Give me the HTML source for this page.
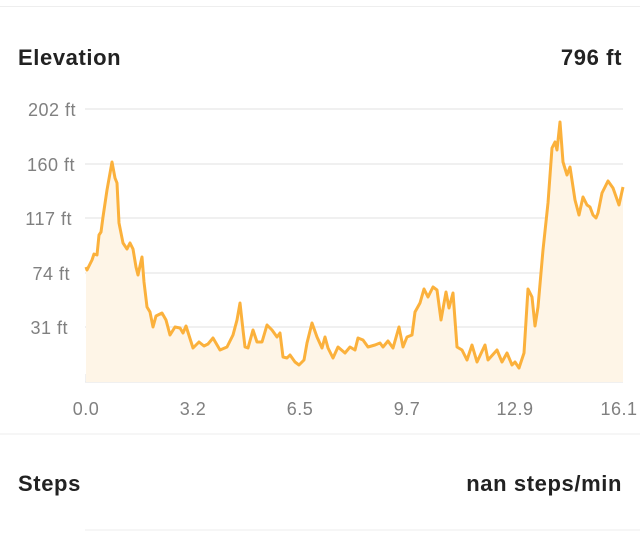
<!DOCTYPE html>
<html><head><style>
body{margin:0;width:640px;height:539px;background:#fff;font-family:"Liberation Sans",sans-serif;overflow:hidden;position:relative}
.t{position:absolute;font-size:22px;font-weight:bold;color:#222;letter-spacing:0.6px}
</style></head><body>
<div style="position:absolute;left:0;right:0;top:6px;border-top:1px solid #eee"></div>
<div class="t" style="left:18px;top:45px">Elevation</div>
<div class="t" style="right:18px;top:45px">796 ft</div>
<svg width="640" height="539" style="position:absolute;left:0;top:0">
<g stroke="#ebebeb" stroke-width="1.5">
<line x1="85" x2="623" y1="109" y2="109"/><line x1="85" x2="623" y1="164" y2="164"/><line x1="85" x2="623" y1="218" y2="218"/><line x1="85" x2="623" y1="273" y2="273"/><line x1="85" x2="623" y1="327" y2="327"/><line x1="85" x2="623" y1="382" y2="382"/>
<line x1="86" x2="86" y1="374" y2="382"/><line x1="193" x2="193" y1="374" y2="382"/><line x1="300" x2="300" y1="374" y2="382"/><line x1="407" x2="407" y1="374" y2="382"/><line x1="515" x2="515" y1="374" y2="382"/><line x1="622" x2="622" y1="374" y2="382"/>
</g>
<g font-size="18" fill="#808080" text-anchor="end" letter-spacing="0.5">
<text x="76" y="116">202 ft</text><text x="75" y="171">160 ft</text><text x="72" y="225">117 ft</text><text x="70" y="280">74 ft</text><text x="68" y="334">31 ft</text>
</g>
<g font-size="18" fill="#808080" text-anchor="middle" letter-spacing="0.5">
<text x="86" y="415">0.0</text><text x="193" y="415">3.2</text><text x="300" y="415">6.5</text><text x="407" y="415">9.7</text><text x="515" y="415">12.9</text><text x="619" y="415">16.1</text>
</g>
<polygon fill="#fef5e7" points="86,382 86,267 87,270 92,260 94,254 97,255 99,235 101,232 103,217 107,190 112,162 115,178 117,183 119,223 123,243 127,249 130,243 133,249 136,267 138,275 142,257 144,282 147,307 150,312 153,327 156,316 162,313 166,320 170,335 175,327 180,328 183,333 186,326 193,348 199,342 204,346 208,344 213,338 220,350 227,347 233,335 237,320 240,303 243,330 245,347 248,348 253,330 257,342 262,342 267,325 272,330 277,337 280,333 283,357 287,358 290,355 295,362 299,365 304,360 307,343 312,323 317,337 322,348 325,337 328,348 333,358 338,347 345,353 350,347 355,350 358,338 363,340 368,347 375,345 380,343 383,347 388,341 393,348 399,327 403,347 407,337 412,335 415,312 420,303 424,289 428,297 433,287 437,290 441,320 446,292 449,308 453,293 457,347 462,350 467,360 472,345 477,362 485,345 488,360 497,350 502,362 507,353 512,365 515,362 519,368 524,353 528,289 532,297 535,326 538,307 543,250 548,203 552,148 555,142 557,150 560,122 563,162 567,175 570,167 575,200 579,215 583,197 587,205 590,207 593,215 596,218 598,213 602,193 608,181 613,188 619,205 623,187 623,382"/>
<polyline fill="none" stroke="#fbb13c" stroke-width="3" stroke-linejoin="round" points="86,267 87,270 92,260 94,254 97,255 99,235 101,232 103,217 107,190 112,162 115,178 117,183 119,223 123,243 127,249 130,243 133,249 136,267 138,275 142,257 144,282 147,307 150,312 153,327 156,316 162,313 166,320 170,335 175,327 180,328 183,333 186,326 193,348 199,342 204,346 208,344 213,338 220,350 227,347 233,335 237,320 240,303 243,330 245,347 248,348 253,330 257,342 262,342 267,325 272,330 277,337 280,333 283,357 287,358 290,355 295,362 299,365 304,360 307,343 312,323 317,337 322,348 325,337 328,348 333,358 338,347 345,353 350,347 355,350 358,338 363,340 368,347 375,345 380,343 383,347 388,341 393,348 399,327 403,347 407,337 412,335 415,312 420,303 424,289 428,297 433,287 437,290 441,320 446,292 449,308 453,293 457,347 462,350 467,360 472,345 477,362 485,345 488,360 497,350 502,362 507,353 512,365 515,362 519,368 524,353 528,289 532,297 535,326 538,307 543,250 548,203 552,148 555,142 557,150 560,122 563,162 567,175 570,167 575,200 579,215 583,197 587,205 590,207 593,215 596,218 598,213 602,193 608,181 613,188 619,205 623,187"/>
<line x1="0" x2="640" y1="434" y2="434" stroke="#eee"/>
<line x1="85" x2="640" y1="530" y2="530" stroke="#eee"/>
</svg>
<div class="t" style="left:18px;top:471px">Steps</div>
<div class="t" style="right:18px;top:471px">nan steps/min</div>
</body></html>
